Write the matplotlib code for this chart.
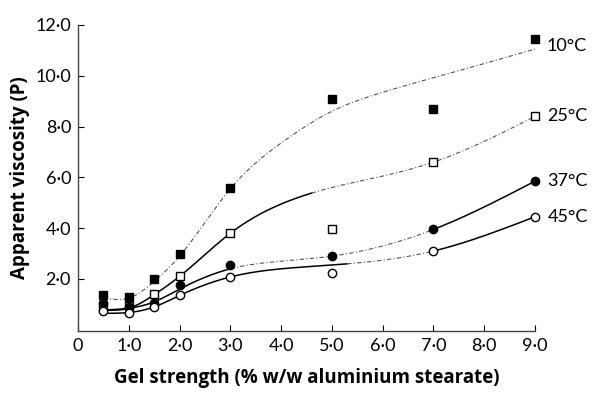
import numpy as np
import matplotlib
matplotlib.use("Agg")
import matplotlib.pyplot as plt

plt.rcParams['font.family'] = ['Lato', 'DejaVu Sans']

# ---- data ----
conc = [0.5, 1.0, 1.5, 2.0, 3.0, 5.0, 7.0, 9.0]
visc_10 = [1.37, 1.3, 2.0, 2.98, 5.6, 9.1, 8.7, 11.45]
visc_25 = [0.9, 0.95, 1.42, 2.12, 3.8, 3.95, 6.6, 8.4]
visc_37 = [1.05, 0.9, 1.07, 1.76, 2.55, 2.9, 3.95, 5.85]
visc_45 = [0.75, 0.65, 0.9, 1.37, 2.08, 2.25, 3.1, 4.45]

# fitted (hand-drawn) curves: knot positions
fit_x_10 = [0.5, 1.0, 1.5, 2.0, 3.0, 4.0, 5.0, 6.0, 7.5, 9.0]
fit_y_10 = [1.25, 1.25, 1.9, 2.9, 5.55, 7.35, 8.6, 9.35, 10.2, 11.05]
fit_x_25 = [0.5, 1.0, 1.5, 2.0, 3.0, 4.0, 4.94, 6.0, 7.0, 9.0]
fit_y_25 = [0.78, 0.85, 1.38, 2.1, 3.8, 4.95, 5.57, 6.05, 6.6, 8.4]
fit_x_37 = [0.5, 1.0, 1.5, 2.0, 3.0, 4.0, 5.0, 7.0, 9.0]
fit_y_37 = [0.78, 0.85, 1.1, 1.6, 2.4, 2.7, 2.9, 3.95, 5.85]
fit_x_45 = [0.5, 1.0, 1.5, 2.0, 3.0, 4.0, 5.0, 7.0, 9.0]
fit_y_45 = [0.65, 0.68, 0.9, 1.35, 2.08, 2.4, 2.55, 3.1, 4.45]

labels = ["10°C", "25°C", "37°C", "45°C"]
xticks = [0, 1, 2, 3, 4, 5, 6, 7, 8, 9]
xticklabels = ["0", "1·0", "2·0", "3·0", "4·0", "5·0", "6·0", "7·0", "8·0", "9·0"]
yticks = [2, 4, 6, 8, 10, 12]
yticklabels = ["2·0", "4·0", "6·0", "8·0", "10·0", "12·0"]


def natural_spline(xk, yk, xs):
    xk = np.asarray(xk, float); yk = np.asarray(yk, float)
    n = len(xk)
    h = np.diff(xk)
    A = np.zeros((n, n)); b = np.zeros(n)
    A[0, 0] = 1; A[-1, -1] = 1
    for i in range(1, n - 1):
        A[i, i - 1] = h[i - 1]
        A[i, i] = 2 * (h[i - 1] + h[i])
        A[i, i + 1] = h[i]
        b[i] = 3 * ((yk[i + 1] - yk[i]) / h[i] - (yk[i] - yk[i - 1]) / h[i - 1])
    c = np.linalg.solve(A, b)
    out = np.empty_like(xs)
    for j, x in enumerate(xs):
        i = min(max(np.searchsorted(xk, x) - 1, 0), n - 2)
        dx = x - xk[i]
        bb = (yk[i + 1] - yk[i]) / h[i] - h[i] * (2 * c[i] + c[i + 1]) / 3
        d = (c[i + 1] - c[i]) / (3 * h[i])
        out[j] = yk[i] + bb * dx + c[i] * dx ** 2 + d * dx ** 3
    return out


fig = plt.figure(figsize=(5.94, 3.96), dpi=100)
ax = fig.add_axes([0.1313, 0.164, 0.9007 - 0.1313, 0.937 - 0.164])
ax.set_xlim(0, 9.0)
ax.set_ylim(-0.05, 12)

# line segments: (start, end, style)
styles = {
    "10°C": [(0.5, 9.0, 'dashdot')],
    "25°C": [(0.5, 4.6, 'solid'), (4.6, 9.0, 'dashdot')],
    "37°C": [(0.5, 3.0, 'solid'), (3.0, 7.0, 'dashdot'), (7.0, 9.0, 'solid')],
    "45°C": [(0.5, 5.3, 'solid'), (5.3, 7.0, 'dashdot'), (7.0, 9.0, 'solid')],
}
fits = {
    "10°C": (fit_x_10, fit_y_10),
    "25°C": (fit_x_25, fit_y_25),
    "37°C": (fit_x_37, fit_y_37),
    "45°C": (fit_x_45, fit_y_45),
}
for lab in labels:
    fx, fy = fits[lab]
    for s, e, ls in styles[lab]:
        xs = np.linspace(s, e, 200)
        ys = natural_spline(fx, fy, xs)
        if ls == 'solid':
            ax.plot(xs, ys, color='black', lw=1.1, ls='-', clip_on=False, zorder=2)
        else:
            ax.plot(xs, ys, color='#555555', lw=0.8, ls=(0, (4, 2, 1, 2)), clip_on=False, zorder=2)

ms = 6
ax.plot(conc, visc_10, 's', ms=ms, mfc='black', mec='black', ls='none', clip_on=False, zorder=3)
ax.plot(conc, visc_25, 's', ms=ms, mfc='white', mec='black', mew=1.0, ls='none', clip_on=False, zorder=3)
ax.plot(conc, visc_37, 'o', ms=ms, mfc='black', mec='black', ls='none', clip_on=False, zorder=3)
ax.plot(conc, visc_45, 'o', ms=ms, mfc='white', mec='black', mew=1.0, ls='none', clip_on=False, zorder=3)

finals = [visc_10[-1], visc_25[-1], visc_37[-1], visc_45[-1]]
offsets = [(-1, -5), (0, 0), (0, 0), (0, 0)]
for lab, yv, (ox, oy) in zip(labels, finals, offsets):
    ax.annotate(lab, xy=(conc[-1], yv), xytext=(9 + ox, oy), textcoords='offset points',
                ha='left', va='center', fontsize=13, annotation_clip=False)

for side in ['top', 'right']:
    ax.spines[side].set_visible(False)
ax.spines['left'].set_linewidth(1.0)
ax.spines['bottom'].set_linewidth(1.0)
ax.spines['left'].set_color('#444444')
ax.spines['bottom'].set_color('#444444')

ax.set_xticks(xticks)
ax.set_xticklabels(xticklabels, fontsize=13)
ax.set_yticks(yticks)
ax.set_yticklabels(yticklabels, fontsize=13)
ax.tick_params(direction='in', length=4, width=0.8, pad=5)

lab_font = dict(family=['Open Sans', 'DejaVu Sans'], fontsize=13.5, fontweight='bold')
ax.set_xlabel("Gel strength (% w/w aluminium stearate)", labelpad=10, **lab_font)
ax.set_ylabel("Apparent viscosity (P)", labelpad=4, **lab_font)

fig.savefig("out.png", dpi=100)
